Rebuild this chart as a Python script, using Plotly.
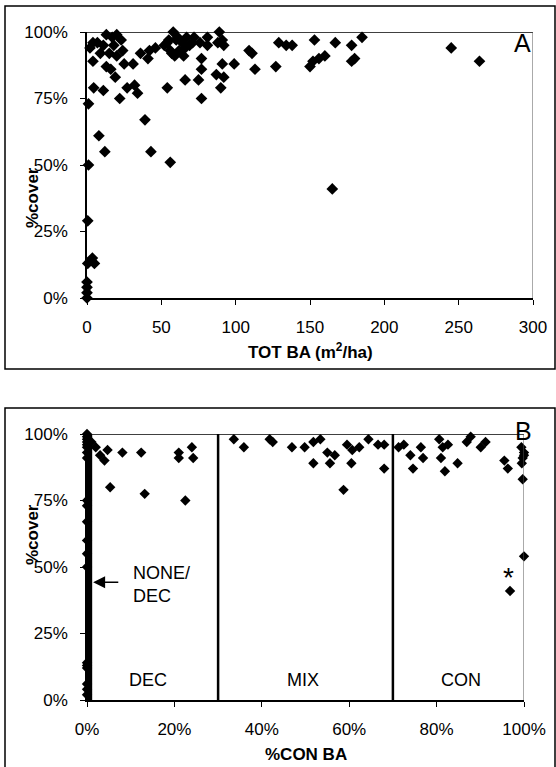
import plotly.graph_objects as go

# ---------------- data ----------------
# Panel A: total basal area (m2/ha) vs % cover
tot_ba = [0, 0, 0, 0, 0.5, 3.6, 5, 0.5, 1, 1,
          4.5, 11, 22, 27, 32, 34, 39, 54, 66, 75, 77, 77, 77, 90, 87, 92, 91, 99,
          113, 127, 109, 111, 129, 134, 138, 153, 150, 152, 156, 160, 167, 178, 180,
          178, 185, 245, 264,
          4, 4, 7, 13, 17, 20, 23, 18, 24, 13, 16, 19, 11, 25, 31, 36, 41, 46, 42,
          54, 56, 60, 64, 67, 71, 62, 59, 66, 58, 61, 72, 81, 81, 89, 91, 92, 88, 76,
          2, 9, 15, 20, 52, 55, 57, 65, 69,
          8, 12, 43, 56, 165]
cover_a = [0, 2, 4, 6, 13, 15, 13, 29, 50, 73,
           79, 78, 75, 79, 80, 77, 67, 79, 82, 82, 75, 86, 90, 79, 84, 83, 88, 88,
           86, 87, 93, 92, 96, 95, 95, 97, 87, 89, 90, 91, 96, 95, 90,
           89, 98, 94, 89,
           89, 96, 96, 99, 98, 99, 97, 95, 93, 87, 86, 83, 95, 88, 88, 92, 90, 94, 93,
           96, 93, 97, 96, 98, 96, 93, 91, 94, 100, 98, 98, 98, 95, 100, 97, 95, 96, 96,
           94, 92, 92, 91, 95, 97, 92, 91, 95,
           61, 55, 55, 51, 41]

# Panel B: % conifer basal area vs % cover
con_ba = [0, 0, 0, 0, 0, 0, 0, 0, 0, 0, 0, 0, 0, 0, 0, 0, 0, 0, 0, 0,
          1, 2, 3, 4,
          4.7, 8.1, 12.4, 21, 21, 24, 24.3, 5.3, 13.2, 22.5,
          33.6, 35.9, 41.8, 42.5, 46.9, 49.8, 51.8, 53.4, 51.8, 55, 56.7, 55.6, 59.5,
          60.7, 62.3, 60.5, 64.4, 66.6, 68, 68, 58.7,
          71.3, 72.5, 74, 76.4, 74.6, 76.9, 80.6, 81.4, 82.6, 81, 81.9, 84.8, 86.9,
          87.8, 90.1, 91.2, 95.5, 96.3, 99.4, 100, 99.7, 100, 99.5, 99.7, 100, 96.8]
cover_b = [100, 99, 98, 97, 96, 95, 93, 91, 75, 73, 67, 60, 55, 50, 14, 13, 12, 6, 4, 2,
           97, 95, 92, 90,
           94, 93, 93, 93, 91, 95, 91, 80, 77.5, 75,
           98, 95, 98, 97, 95, 95, 97, 98, 89, 93, 92, 89, 96,
           94, 95, 89, 98, 96, 96, 87, 79,
           95, 96, 92, 95, 87, 91, 98, 95, 96, 91, 86, 89, 97,
           99, 95, 97, 90, 87, 95, 93, 91, 92, 89, 83, 54, 41]

y_ticks = [0, 25, 50, 75, 100]
y_ticktext = ["0%", "25%", "50%", "75%", "100%"]
xa_ticks = [0, 50, 100, 150, 200, 250, 300]
xb_ticks = [0, 20, 40, 60, 80, 100]
xb_ticktext = ["0%", "20%", "40%", "60%", "80%", "100%"]
class_bounds = [30, 70]
class_labels = ["DEC", "MIX", "CON"]
class_label_x = [14, 49.5, 85.5]

# ---------------- layout helpers ----------------
W, H = 556, 767
def px(x):
    return x / W
def py(y):
    return 1 - y / H

FONT = "Arial, Liberation Sans, sans-serif"

fig = go.Figure()
fig.add_trace(go.Scatter(x=tot_ba, y=cover_a, mode="markers", xaxis="x", yaxis="y",
                         marker=dict(symbol="diamond", size=9, color="black"),
                         cliponaxis=False, showlegend=False))
fig.add_trace(go.Scatter(x=con_ba, y=cover_b, mode="markers", xaxis="x2", yaxis="y2",
                         marker=dict(symbol="diamond", size=8, color="black"),
                         cliponaxis=False, showlegend=False))

axis_common = dict(showgrid=False, zeroline=False, showline=True, linecolor="black",
                   linewidth=1.5, ticks="outside", ticklen=5, tickcolor="black",
                   automargin=False,
                   tickfont=dict(family=FONT, size=17, color="black"))

fig.update_layout(
    width=W, height=H, margin=dict(l=0, r=0, t=0, b=0),
    paper_bgcolor="white", plot_bgcolor="white",
    xaxis=dict(domain=[px(87), px(533)], range=[0, 300], tickvals=xa_ticks,
               anchor="y", ticklabelstandoff=8, **axis_common),
    yaxis=dict(domain=[py(298), py(32)], range=[0, 100], tickvals=y_ticks,
               ticktext=y_ticktext, anchor="x", ticklabelstandoff=9, **axis_common),
    xaxis2=dict(domain=[px(87), px(524)], range=[0, 100], tickvals=xb_ticks,
                ticktext=xb_ticktext, anchor="y2", ticklabelstandoff=8, **axis_common),
    yaxis2=dict(domain=[py(700), py(434)], range=[0, 100], tickvals=y_ticks,
                ticktext=y_ticktext, anchor="x2", ticklabelstandoff=9, **axis_common),
)

shapes = []
# outer frames
shapes.append(dict(type="rect", xref="paper", yref="paper", x0=px(5), x1=px(555),
                   y0=py(369), y1=py(6), line=dict(color="black", width=1.5)))
shapes.append(dict(type="rect", xref="paper", yref="paper", x0=px(5), x1=px(555),
                   y0=py(771), y1=py(408), line=dict(color="black", width=1.5)))
# plot-area top and right borders
for xr, yr, xmax in [("x", "y", 300), ("x2", "y2", 100)]:
    shapes.append(dict(type="line", xref=xr, yref=yr, x0=0, x1=xmax, y0=100, y1=100,
                       line=dict(color="black", width=1.5)))
    shapes.append(dict(type="line", xref=xr, yref=yr, x0=xmax, x1=xmax, y0=0, y1=100,
                       line=dict(color="#555555", width=1)))
# class boundaries in panel B
for b in class_bounds:
    shapes.append(dict(type="line", xref="x2", yref="y2", x0=b, x1=b, y0=0, y1=100,
                       line=dict(color="black", width=2.5)))
# thick NONE/DEC bar
shapes.append(dict(type="line", xref="x2", yref="y2", x0=0.5, x1=0.5, y0=0, y1=100,
                   line=dict(color="black", width=6)))
fig.update_layout(shapes=shapes)

ann = []
ann.append(dict(text="%cover", xref="paper", yref="paper", x=px(21), y=py(165),
                textangle=-90, showarrow=False,
                font=dict(family=FONT, size=17, color="black", weight="bold")))
ann.append(dict(text="%cover", xref="paper", yref="paper", x=px(21), y=py(567),
                textangle=-90, showarrow=False,
                font=dict(family=FONT, size=17, color="black", weight="bold")))
ann.append(dict(text="TOT BA (m<sup>2</sup>/ha)", xref="paper", yref="paper",
                x=px(310), y=py(364), yanchor="bottom", showarrow=False,
                font=dict(family=FONT, size=17, color="black", weight="bold")))
ann.append(dict(text="%CON BA", xref="paper", yref="paper", x=px(306), y=py(766),
                yanchor="bottom", showarrow=False,
                font=dict(family=FONT, size=17, color="black", weight="bold")))
ann.append(dict(text="A", xref="paper", yref="paper", x=px(533), y=py(27),
                showarrow=False, font=dict(family=FONT, size=25, color="black")))
ann.append(dict(text="B", xref="paper", yref="paper", x=px(534), y=py(431),
                showarrow=False, font=dict(family=FONT, size=25, color="black")))
for lx, lt in zip(class_label_x, class_labels):
    ann.append(dict(text=lt, xref="x2", yref="y2", x=lx, y=7.5, showarrow=False,
                    font=dict(family=FONT, size=18, color="black")))
ann.append(dict(text="NONE/<br>DEC", xref="x2", yref="y2", x=10, y=43.5,
                xanchor="left", align="left", showarrow=False,
                font=dict(family=FONT, size=18, color="black")))
ann.append(dict(text="", xref="x2", yref="y2", x=1.4, y=44.3, ax=7.5, ay=44.3,
                axref="x2", ayref="y2", showarrow=True, arrowhead=2, arrowsize=1.6,
                arrowwidth=1.5, arrowcolor="black"))
ann.append(dict(text="*", xref="x2", yref="y2", x=96.4, y=46, showarrow=False,
                font=dict(family=FONT, size=28, color="black")))
fig.update_layout(annotations=ann)

fig.write_html("out.html")
